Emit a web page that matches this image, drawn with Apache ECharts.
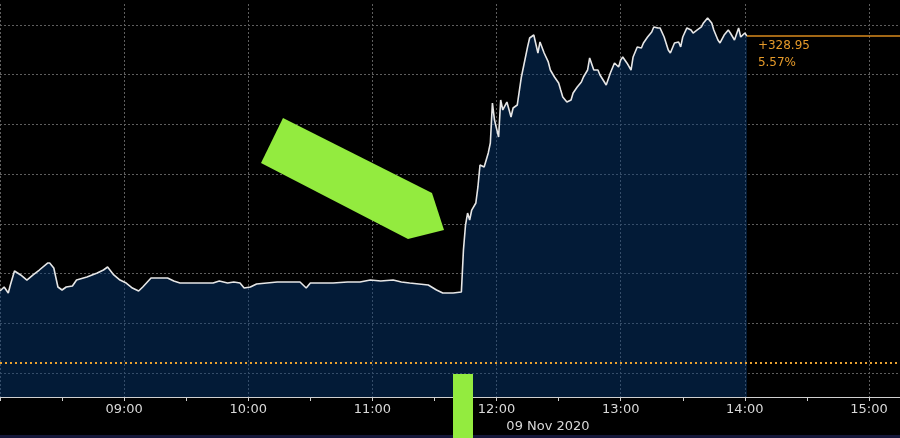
<!DOCTYPE html>
<html><head><meta charset="utf-8">
<script src="https://cdn.jsdelivr.net/npm/echarts@6/dist/echarts.min.js"></script>
<style>html,body{margin:0;padding:0;background:#000}#c{width:900px;height:438px}</style>
</head><body><div id="c"></div>
<script>
// ---- data (FTSE 100 intraday, 09 Nov 2020) ----
const times = ["08:00","08:02","08:04","08:05","08:07","08:10","08:13","08:16","08:19","08:23","08:24","08:26","08:28","08:30","08:32","08:35","08:37","08:42","08:47","08:50","08:52","08:55","08:58","09:01","09:04","09:07","09:09","09:13","09:17","09:21","09:24","09:27","09:32","09:37","09:43","09:46","09:50","09:53","09:56","09:58","10:01","10:04","10:09","10:14","10:20","10:25","10:28","10:30","10:35","10:41","10:48","10:54","10:59","11:04","11:10","11:14","11:18","11:27","11:31","11:34","11:39","11:43","11:44","11:45","11:46","11:47","11:48","11:50","11:51","11:52","11:54","11:56","11:57","11:58","11:59","12:01","12:02","12:03","12:05","12:07","12:08","12:10","12:12","12:13","12:15","12:16","12:18","12:20","12:21","12:23","12:25","12:26","12:28","12:30","12:31","12:32","12:34","12:36","12:37","12:39","12:41","12:42","12:44","12:45","12:47","12:49","12:50","12:53","12:55","12:57","12:59","13:00","13:01","13:03","13:05","13:06","13:08","13:10","13:11","13:13","13:15","13:16","13:18","13:19","13:21","13:23","13:24","13:26","13:28","13:29","13:30","13:32","13:34","13:35","13:37","13:39","13:40","13:42","13:44","13:45","13:47","13:48","13:50","13:52","13:53","13:55","13:57","13:58","14:00","14:01"];
const values = [5982.5,5986.5,5980.5,5988.5,6002.6,5998.6,5993.5,5998.6,6003.6,6010.6,6010.6,6005.6,5986.5,5983.5,5986.5,5987.5,5993.5,5996.5,6000.6,6003.6,6006.6,5998.6,5993.5,5990.5,5985.5,5982.5,5986.5,5995.5,5995.5,5995.5,5992.5,5990.5,5990.5,5990.5,5990.5,5992.5,5990.5,5991.5,5990.5,5985.5,5986.5,5989.5,5990.5,5991.5,5991.5,5991.5,5985.5,5990.5,5990.5,5990.5,5991.5,5991.5,5993.5,5992.5,5993.5,5991.5,5990.5,5988.5,5983.5,5980.5,5980.5,5981.5,6023.7,6048.8,6060.9,6053.9,6063.9,6071.0,6087.1,6109.2,6107.2,6121.3,6131.3,6171.5,6154.4,6137.3,6174.6,6164.5,6172.5,6157.5,6166.5,6169.5,6197.7,6207.7,6227.9,6236.9,6239.9,6221.8,6232.9,6221.8,6212.8,6204.7,6197.7,6191.7,6184.6,6177.6,6172.5,6174.6,6181.6,6187.6,6192.7,6197.7,6204.7,6216.8,6204.7,6204.7,6199.7,6189.6,6201.7,6211.8,6207.7,6214.8,6217.8,6211.8,6204.7,6217.8,6227.9,6226.9,6231.9,6237.9,6242.9,6248.0,6247.0,6247.0,6237.9,6224.8,6221.8,6231.9,6232.9,6227.9,6237.9,6247.0,6245.0,6241.9,6245.0,6248.0,6252.0,6257.0,6252.0,6245.0,6234.9,6231.9,6239.9,6245.0,6241.9,6234.9,6247.0,6237.9,6241.9,6238.97];
const prevClose = 5910.02;
const dateLabel = "09 Nov 2020";
const axisStart = "08:00";
const axisEnd = "15:15";

function toMin(s){const p=s.split(":");return (+p[0])*60+(+p[1]);}
function fmt(m){const h=Math.floor(m/60),mm=Math.round(m%60);return String(h).padStart(2,"0")+":"+String(mm).padStart(2,"0");}

const seriesData = times.map((t,i)=>[toMin(t), values[i]]);
const lastT = toMin(times[times.length-1]);
const lastV = values[values.length-1];
const change = lastV - prevClose;
const pct = change / prevClose * 100;

const chart = echarts.init(document.getElementById('c'), null, {renderer:'canvas'});
const gridColor = '#5e5e5e';
chart.setOption({
  backgroundColor:'#000',
  animation:false,
  grid:{left:0,right:0,top:0,bottom:41,containLabel:false},
  xAxis:{
    type:'value', min:toMin(axisStart), max:toMin(axisEnd), interval:60,
    axisLine:{show:true,lineStyle:{color:'#d0d0d0',width:1}},
    axisTick:{show:true,length:4,lineStyle:{color:'#d0d0d0'}},
    minorTick:{show:true,splitNumber:2,length:4,lineStyle:{color:'#d0d0d0'}},
    splitLine:{show:true,lineStyle:{color:gridColor,type:[2,2],width:1}},
    axisLabel:{show:true,color:'#d8d8d8',fontFamily:'DejaVu Sans',fontSize:13,margin:6,
      showMinLabel:false,showMaxLabel:false,formatter:v=>fmt(v)}
  },
  yAxis:{
    type:'value', min:5875.9, max:6275.1, splitNumber:8, scale:true,
    axisLine:{show:false}, axisTick:{show:false}, axisLabel:{show:false},
    splitLine:{show:true,lineStyle:{color:gridColor,type:[2,2],width:1}}
  },
  series:[{
    type:'line', data:seriesData, showSymbol:false, smooth:false,
    lineStyle:{color:'#e6e6e6',width:1.6},
    areaStyle:{color:'rgba(7,58,118,0.66)',origin:'start'},
    markLine:{
      silent:true, symbol:'none', label:{show:false}, animation:false,
      data:[
        {yAxis:prevClose, lineStyle:{color:'#e8a030',type:[2,3],width:2}},
        [{coord:[lastT,lastV], lineStyle:{color:'#d98a1c',type:'solid',width:1.5}},{coord:[toMin(axisEnd),lastV]}]
      ]
    }
  }]
});

const p = chart.convertToPixel({gridIndex:0},[lastT,lastV]);
chart.setOption({
  graphic:[
    {type:'rect',shape:{x:0,y:0,width:900,height:2},style:{fill:'#000'},z:80},
    {type:'polygon',shape:{points:[[283,118],[432,193],[444,230],[408,239],[261,163]]},style:{fill:'#93eb3f'},z:100},
    {type:'rect',shape:{x:453,y:374,width:20,height:64},style:{fill:'#93eb3f'},z:100},
    {type:'rect',shape:{x:0,y:435,width:900,height:3},style:{fill:'#15173a'},z:90},
    {type:'text',x:548,y:427,style:{text:dateLabel,fill:'#d8d8d8',font:'13px "DejaVu Sans"',textAlign:'center',textVerticalAlign:'middle'},z:100},
    {type:'text',x:p[0]+11,y:p[1]+10,style:{text:(change>=0?'+':'')+change.toFixed(2),fill:'#e59a2a',font:'12px "DejaVu Sans"',textAlign:'left',textVerticalAlign:'middle'},z:100},
    {type:'text',x:p[0]+11,y:p[1]+27,style:{text:pct.toFixed(2)+'%',fill:'#e59a2a',font:'12px "DejaVu Sans"',textAlign:'left',textVerticalAlign:'middle'},z:100}
  ]
});
</script></body></html>
